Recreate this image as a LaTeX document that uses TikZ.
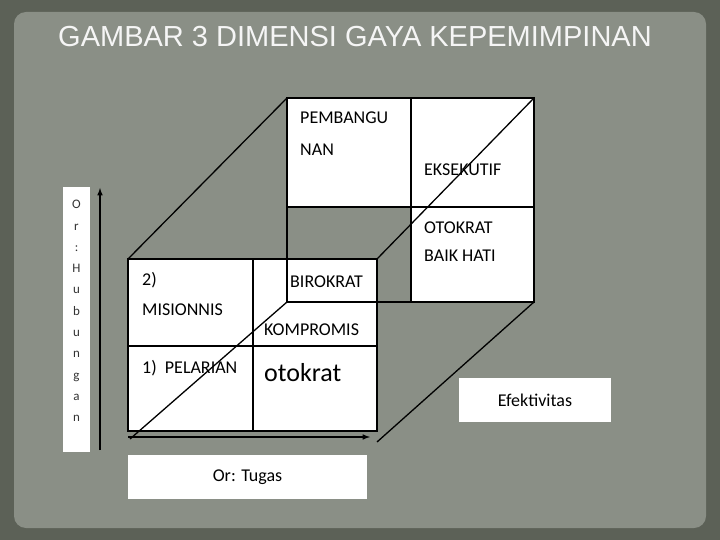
\documentclass[tikz,border=0pt]{standalone}
\usepackage{fontspec}
\setmainfont{Carlito}
\newfontfamily\titlefont{Liberation Sans}
\usetikzlibrary{positioning}
\definecolor{bgdark}{HTML}{5C6157}
\definecolor{bgmid}{HTML}{8A8F86}
\tikzset{
  lbl/.style={anchor=west, inner sep=0pt, font=\fontsize{18}{20}\selectfont},
  edge/.style={black, line width=1.3pt},
  tagbox/.style={fill=white, draw=none}
}
\begin{document}
\begin{tikzpicture}[x=1pt, y=-1pt]
  \useasboundingbox (0,0) rectangle (720,540);
  \fill[bgdark] (0,0) rectangle (720,540);
  \fill[bgmid, rounded corners=12pt] (14,12) rectangle (706,528);

  % title
  \node[font=\titlefont\fontsize{29}{31}\selectfont, text=white!92!gray] (title) at (355,37) {GAMBAR 3 DIMENSI GAYA KEPEMIMPINAN};

  % corners
  \coordinate (bTL) at (287,98);  \coordinate (bTR) at (534,98);
  \coordinate (bBL) at (287,302); \coordinate (bBR) at (534,302);
  \coordinate (fTL) at (128,259); \coordinate (fTR) at (377,259);
  \coordinate (fBL) at (128,431); \coordinate (fBR) at (377,431);
  \coordinate (fBLo) at (130,439); \coordinate (fBRo) at (377,442);

  % back face
  \fill[white] (287,98) rectangle (534,207);
  \fill[white] (411,207) rectangle (534,302);
  % front face
  \fill[white] (fTL) rectangle (fBR);

  \draw[edge] (fTL) rectangle (fBR);
  \draw[edge] (253,259) -- (253,431);
  \draw[edge] (128,346) -- (377,346);
  \draw[edge] (bTL) rectangle (bBR);
  \draw[edge] (411,98) -- (411,302);
  \draw[edge] (287,207) -- (534,207);

  % depth edges
  \draw[edge] (fTL) -- (bTL);
  \draw[edge] (fTR) -- (bTR);
  \draw[edge] (fBLo) -- (bBL);
  \draw[edge] (fBRo) -- (bBR);

  % labels
  \node[lbl] (pemb) at (300,118) {PEMBANGU};
  \node[lbl] (nan) at (300,150) {NAN};
  \node[lbl] (eks) at (424,170) {EKSEKUTIF};
  \node[lbl] (oto) at (424,228) {OTOKRAT};
  \node[lbl] (baik) at (424,256) {BAIK HATI};
  \node[lbl] (biro) at (290,282) {BIROKRAT};
  \node[lbl] (mis2) at (142,280) {2)};
  \node[lbl] (mis) at (142,310) {MISIONNIS};
  \node[lbl] (komp) at (264,330) {KOMPROMIS};
  \node[lbl] (pel) at (142,368) {1)\ \ PELARIAN};
  \node[lbl, font=\fontsize{26}{28}\selectfont] (otok) at (264,373) {otokrat};

  % axes
  \coordinate (vs) at (100,450); \coordinate (ve) at (100,188);
  \coordinate (hs) at (128,437); \coordinate (he) at (370,437);
  \draw[line width=1.5pt, -latex] (vs) -- (ve);
  \draw[line width=1.5pt, -latex] (hs) -- (he);

  % tag boxes
  \fill[tagbox] (63,187) rectangle (90,452);
  \node[align=center, font=\fontsize{13}{21.3}\selectfont, text=black!80] (hub) at (76.5,311)
    {O\\r\\:\\H\\u\\b\\u\\n\\g\\a\\n};
  \fill[tagbox] (128,455) rectangle (367,499);
  \node[font=\fontsize{18}{20}\selectfont] (tugas) at (247.5,477) {Or: Tugas};
  \fill[tagbox] (459,378) rectangle (611,422);
  \node[font=\fontsize{18}{20}\selectfont] (efek) at (535,400) {Efektivitas};
\end{tikzpicture}
\end{document}
